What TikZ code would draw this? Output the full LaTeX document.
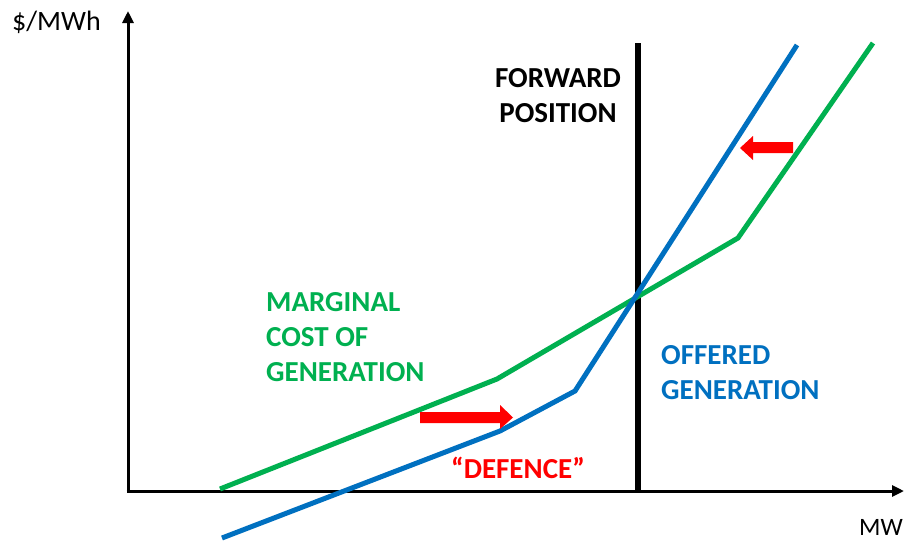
\documentclass[tikz,border=0pt]{standalone}
\usepackage{fontspec}
\setmainfont{Carlito}
\usetikzlibrary{arrows.meta}
\definecolor{mgreen}{RGB}{0,176,80}
\definecolor{mblue}{RGB}{0,112,192}
\definecolor{mred}{RGB}{255,0,0}
\begin{document}
\begin{tikzpicture}[x=1pt,y=-1pt,
  axis/.style={line width=3pt,-{Triangle[length=12pt,width=11pt]}},
  curve/.style={line width=5pt,line join=miter},
  lab/.style={font=\fontsize{29}{35}\selectfont\bfseries,inner sep=0pt,align=left},
  redarrow/.style={fill=mred,draw=none}]
\useasboundingbox (0,0) rectangle (909,541);
\fill[white] (0,0) rectangle (909,541);
% axes
\coordinate (ytop) at (128,11);
\coordinate (xend) at (904,491);
\draw[axis] (128,492.5) -- (ytop);
\draw[axis] (126.5,491) -- (xend);
% forward position line
\coordinate (fb) at (638,492);
\coordinate (ft) at (638,43);
\draw[line width=6pt] (fb) -- (ft);
% green curve
\coordinate (g1) at (220,489);
\coordinate (g2) at (497,379);
\coordinate (g3) at (738,238);
\coordinate (g4) at (873,43);
\draw[curve,mgreen] (g1) -- (g2) -- (g3) -- (g4);
% blue curve
\coordinate (b1) at (222,538);
\coordinate (b2) at (500,431);
\coordinate (b3) at (575,391);
\coordinate (b4) at (797,45);
\draw[curve,mblue] (b1) -- (b2) -- (b3) -- (b4);
% red arrows
\fill[redarrow] (420,412) -- (500,412) -- (500,405) -- (513,417.5) -- (500,429) -- (500,423) -- (420,423) -- cycle;
\fill[redarrow] (793,142) -- (753,142) -- (753,136) -- (740,148) -- (753,160) -- (753,153) -- (793,153) -- cycle;
% texts
\node[font=\fontsize{28}{30}\selectfont,inner sep=0pt,anchor=base west] (ylab) at (12,30) {\$/MWh};
\node[font=\fontsize{25}{30}\selectfont,inner sep=0pt,anchor=base east] (xlab) at (903,535) {MW};
\node[lab,align=center,anchor=north] (fwd) at (558,68) {FORWARD\\POSITION};
\node[lab,text=mgreen,anchor=north west] (mc) at (266,292) {MARGINAL\\COST OF\\GENERATION};
\node[lab,text=mblue,anchor=north west] (og) at (661,345) {OFFERED\\GENERATION};
\node[lab,text=mred,anchor=base] (def) at (518,478) {“DEFENCE”};
\end{tikzpicture}
\end{document}
